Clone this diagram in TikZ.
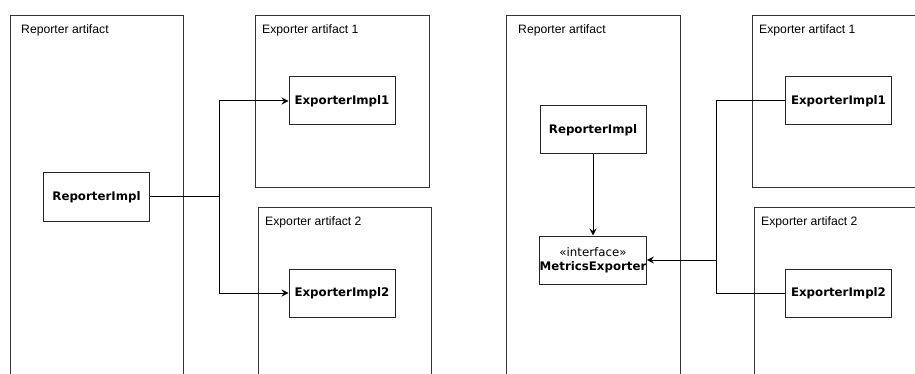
\documentclass[tikz,border=0pt]{standalone}
\usepackage{fontspec}
\setmainfont{Liberation Sans}
\newfontfamily\boldfam{DejaVu Sans}
\usetikzlibrary{arrows.meta}
\begin{document}
\begin{tikzpicture}[x=1pt,y=-1pt,
  artifact/.style={draw=black!80,line width=1pt,anchor=north west,inner sep=0pt},
  artlabel/.style={anchor=base west,inner sep=0pt,font=\fontsize{12.2}{14}\selectfont},
  cls/.style={draw=black!85,line width=1pt,minimum width=106pt,minimum height=48pt,inner sep=0pt,align=center,font=\boldfam\fontsize{11.8}{13.5}\selectfont\bfseries},
  conn/.style={line width=1pt},
  arr/.style={conn,-{Stealth[length=7pt,width=7pt,inset=2.5pt]}}]
\useasboundingbox (0,0) rectangle (915,374);
\clip (0,0) rectangle (915,374);
% left panel artifacts
\node[artifact,minimum width=173pt,minimum height=380pt] (ra1) at (10,15) {};
\node[artifact,minimum width=174pt,minimum height=172pt] (ea1) at (255,15) {};
\node[artifact,minimum width=173pt,minimum height=180pt] (ea2) at (258,207) {};
\node[artlabel] (lra1) at (21,33.5) {Reporter artifact};
\node[artlabel] (lea1) at (262,33.5) {Exporter artifact 1};
\node[artlabel] (lea2) at (265,225.5) {Exporter artifact 2};
% left panel classes
\node[cls] (ri) at (96.5,197) {ReporterImpl};
\node[cls] (ei1) at (342,101) {ExporterImpl1};
\node[cls] (ei2) at (342,293) {ExporterImpl2};
\coordinate (j1) at (219,197);
\draw[conn] (ri.east) -- (j1);
\draw[arr] (j1) |- (ei1.west);
\draw[arr] (j1) |- (ei2.west);
% right panel artifacts
\node[artifact,minimum width=174pt,minimum height=380pt] (rb1) at (506,15) {};
\node[artifact,minimum width=180pt,minimum height=172pt] (eb1) at (752,15) {};
\node[artifact,minimum width=180pt,minimum height=180pt] (eb2) at (754,207) {};
\node[artlabel] (lrb1) at (518,33.5) {Reporter artifact};
\node[artlabel] (leb1) at (759,33.5) {Exporter artifact 1};
\node[artlabel] (leb2) at (761,225.5) {Exporter artifact 2};
% right panel classes
\node[cls] (rib) at (593,130) {ReporterImpl};
\node[cls] (me) at (593,260) {{\normalfont\boldfam\fontsize{11.8}{13.5}\selectfont «interface»}\\MetricsExporter};
\node[cls] (eib1) at (838.5,101) {ExporterImpl1};
\node[cls] (eib2) at (838.5,293) {ExporterImpl2};
\coordinate (j2) at (716,260);
\draw[arr] (rib.south) -- (me.north);
\draw[conn] (eib1.west) -| (j2);
\draw[conn] (eib2.west) -| (j2);
\draw[arr] (j2) -- (me.east);
\end{tikzpicture}
\end{document}
